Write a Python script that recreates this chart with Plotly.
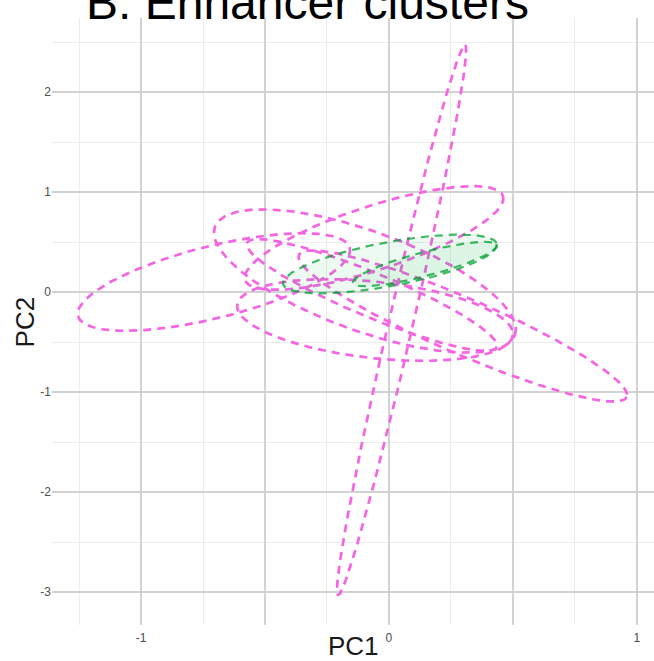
import numpy as np
import plotly.graph_objects as go

# Cluster ellipse parameters (data units): centre, first half-axis vector, second half-axis vector
cluster = ["m1", "m2", "m3", "m4", "m5", "m6", "m7", "g1", "g2"]
group = ["pink", "pink", "pink", "pink", "pink", "pink", "pink", "green", "green"]
center_x = [0.051, -0.706, -0.060, 0.298, -0.097, -0.056, -0.069, 0.004, 0.145]
center_y = [-0.28, 0.10, 0.54, -0.34, 0.11, -0.28, -0.03, 0.28, 0.28]
axis1_x = [0.256, -0.548, 0.520, 0.661, 0.605, 0.556, 0.504, 0.431, 0.290]
axis1_y = [2.75, -0.34, 0.42, -0.71, -0.54, -0.15, -0.52, 0.20, 0.19]
axis2_x = [0.048, 0.035, 0.040, -0.045, 0.068, -0.016, -0.034, 0.016, 0.012]
axis2_y = [-0.028, -0.35, -0.304, -0.257, 0.47, -0.38, -0.203, -0.216, -0.116]

x_tickvals = [-1, -0.5, 0, 0.5, 1]
x_ticktext = ["-1", "", "0", "", "1"]
y_tickvals = [-3, -2, -1, 0, 1, 2]
y_ticktext = ["-3", "-2", "-1", "0", "1", "2"]

PINK = "#F564E3"
GREEN = "#00BA38"

fig = go.Figure()
t = np.linspace(0, 2 * np.pi, 241)
for i in range(len(cluster)):
    xs = center_x[i] + axis1_x[i] * np.cos(t) + axis2_x[i] * np.sin(t)
    ys = center_y[i] + axis1_y[i] * np.cos(t) + axis2_y[i] * np.sin(t)
    if group[i] == "green":
        fig.add_trace(go.Scatter(x=xs, y=ys, mode="lines", fill="toself",
                                 fillcolor="rgba(0,186,56,0.07)",
                                 line=dict(color="rgba(0,160,50,0.75)", width=2.2, dash="8px,6px"),
                                 hoverinfo="skip", showlegend=False))
    else:
        fig.add_trace(go.Scatter(x=xs, y=ys, mode="lines",
                                 line=dict(color=PINK, width=2.7, dash="8px,6px"),
                                 hoverinfo="skip", showlegend=False))

fig.update_layout(
    width=654, height=661,
    margin=dict(l=52, r=0, t=18, b=36),
    paper_bgcolor="white", plot_bgcolor="white",
    font=dict(family="Liberation Sans, Arial, sans-serif"),
    xaxis=dict(range=[-1.359, 1.069], tickvals=x_tickvals, ticktext=x_ticktext,
               showgrid=True, gridcolor="#d2d2d2", gridwidth=1.6, zeroline=False,
               showline=False, ticks="", ticklabelstandoff=4,
               tickfont=dict(size=12, color="#4d4d4d"),
               minor=dict(tick0=0, dtick=0.25, showgrid=True, gridcolor="#ececec", gridwidth=1)),
    yaxis=dict(range=[-3.33, 2.74], tickvals=y_tickvals, ticktext=y_ticktext,
               showgrid=True, gridcolor="#d2d2d2", gridwidth=1.6, zeroline=False,
               showline=False, ticks="", tickfont=dict(size=12, color="#4d4d4d"),
               minor=dict(tick0=0, dtick=0.5, showgrid=True, gridcolor="#ececec", gridwidth=1)),
    annotations=[
        dict(text="B. Enhancer clusters", xref="paper", yref="paper", x=0.4236, y=0.978,
             xanchor="center", yanchor="bottom", showarrow=False,
             font=dict(size=48, color="black")),
        dict(text="PC1", xref="paper", yref="paper", x=0.5, y=-0.034,
             xanchor="center", yanchor="middle", showarrow=False,
             font=dict(size=26, color="#1a1a1a")),
        dict(text="PC2", xref="paper", yref="paper", x=-0.045, y=0.5, textangle=-90,
             xanchor="center", yanchor="middle", showarrow=False,
             font=dict(size=26, color="#1a1a1a")),
    ],
)

fig.write_html("out.html")
